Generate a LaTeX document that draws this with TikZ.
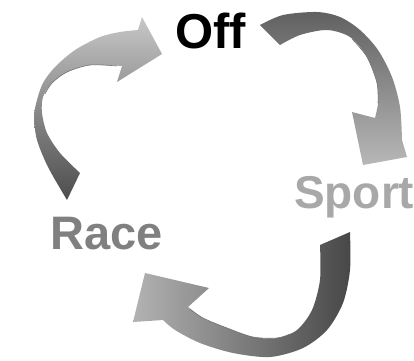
\documentclass[tikz,border=0pt]{standalone}
\usepackage{fontspec}
\setmainfont{Liberation Sans}
\usepackage{tikz}
\usetikzlibrary{arrows.meta,calc}
\definecolor{sportgray}{HTML}{A8A8A8}
\definecolor{racegray}{HTML}{808080}
\tikzset{word/.style={inner sep=0pt,anchor=base west,font=\bfseries}}
\tikzset{edge/.style={black!55,line width=0.6pt}}

\begin{document}
\begin{tikzpicture}[x=1pt,y=-1pt,line join=round]
\useasboundingbox (0,0) rectangle (414,360);
% --- arrow Race -> Off
\shade[top color=black!22,bottom color=black!70]
  (67,200) -- plot[smooth] coordinates {(67,200) (48,167) (37,140) (34,117) (37,100) (43,83) (55,67) (75,50) (100,37) (120,32) (138,30)}
  -- (142,17) -- (162,54) -- (117,82) -- (122,66)
  -- plot[smooth] coordinates {(122,66) (90,65) (67,72) (52,83) (43,97) (42,113) (47,133) (60,153) (80,173)} -- cycle;
\draw[edge] plot[smooth] coordinates {(117,66) (90,65) (67,72) (52,83) (45,94)};
% --- arrow Off -> Sport
\shade[top color=black!62,bottom color=black!28]
  (260,25) -- plot[smooth] coordinates {(260,25) (283,15) (317,12) (340,17) (360,30) (378,50) (392,77) (400,107) (402,140)}
  -- (407,157) -- (363,165) -- (352,112) -- (375,118)
  -- plot[smooth] coordinates {(375,118) (378,103) (377,83) (367,57) (350,37) (327,30) (300,35) (280,45)} -- cycle;
\draw[edge] plot[smooth] coordinates {(378,103) (377,83) (367,57) (352,39)};
% --- arrow Sport -> Race
\shade[left color=black!30,right color=black!72]
  (350,232) -- plot[smooth] coordinates {(350,232) (350,270) (343,303) (327,330) (303,348) (270,357) (233,353) (200,343) (175,330) (163,320)}
  -- (133,322) -- (145,273) -- (209,288) -- (188,307)
  -- plot[smooth] coordinates {(188,307) (203,318) (227,328) (253,337) (277,338) (297,330) (312,310) (320,280) (320,245)} -- cycle;
\draw[edge] plot[smooth] coordinates {(190,309) (203,318) (227,328) (253,337) (277,338) (290,334)};
% --- labels
\node[word,font=\bfseries\fontsize{49}{52}\selectfont] (off) at (175,48) {Off};
\node[word,font=\bfseries\fontsize{46}{50}\selectfont,text=sportgray] (sport) at (294,208) {Sport};
\node[word,font=\bfseries\fontsize{47}{50}\selectfont,text=racegray] (race) at (50,249) {Race};
\end{tikzpicture}
\end{document}
